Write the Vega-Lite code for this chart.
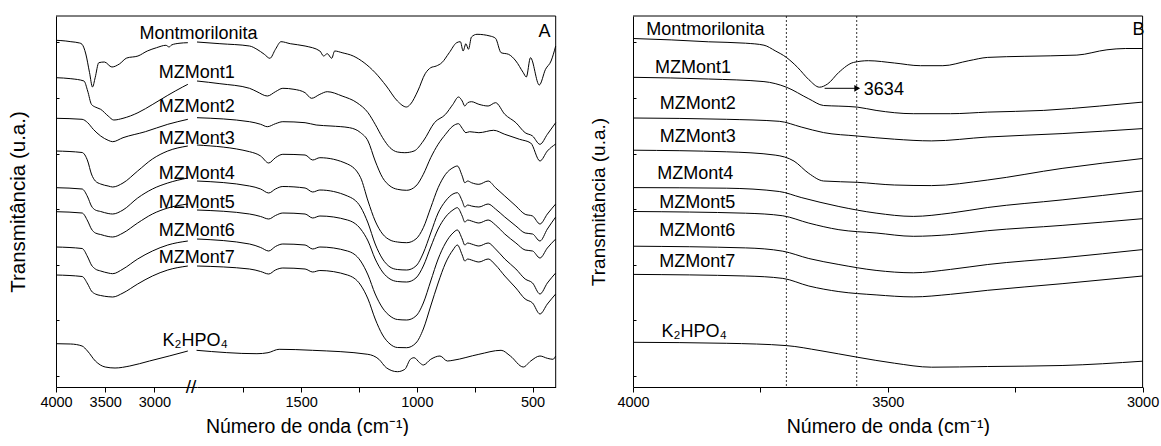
{
"$schema":"https://vega.github.io/schema/vega-lite/v6.json",
"padding":{"left":8,"top":15,"right":5,"bottom":0},
"config":{"font":"Liberation Sans","view":{"stroke":null},"axis":{"labelFont":"Liberation Sans","titleFont":"Liberation Sans","titleFontWeight":"normal","titleColor":"black","labelColor":"black","domainColor":"black","tickColor":"black","grid":false}},
"bounds":"flush",
"spacing":0,
"datasets":{
"A":[
{"s":"Mont","wn":4000,"T":346.7},{"s":"Mont","wn":3900,"T":346},{"s":"Mont","wn":3849,"T":345.3},{"s":"Mont","wn":3760,"T":344},{"s":"Mont","wn":3735,"T":342.7},{"s":"Mont","wn":3697,"T":333},{"s":"Mont","wn":3659,"T":314.3},{"s":"Mont","wn":3629,"T":300},{"s":"Mont","wn":3602,"T":309.3},{"s":"Mont","wn":3565,"T":324.3},{"s":"Mont","wn":3508,"T":325},{"s":"Mont","wn":3432,"T":320},{"s":"Mont","wn":3356,"T":323},{"s":"Mont","wn":3281,"T":329},{"s":"Mont","wn":3167,"T":331},{"s":"Mont","wn":3072,"T":336},{"s":"Mont","wn":2978,"T":339.3},{"s":"Mont","wn":2883,"T":341.7},{"s":"Mont","wn":2850,"T":340},{"s":"Mont","wn":2826,"T":342},{"s":"Mont","wn":2750,"T":343.7},{"s":"Mont","wn":2660,"T":344.3},
{"s":"Mont","wn":1950,"T":345},{"s":"Mont","wn":1851,"T":343.3},{"s":"Mont","wn":1723,"T":341},{"s":"Mont","wn":1691,"T":337.7},{"s":"Mont","wn":1659,"T":332.7},{"s":"Mont","wn":1635,"T":328.7},{"s":"Mont","wn":1611,"T":337.7},{"s":"Mont","wn":1587,"T":345.3},{"s":"Mont","wn":1547,"T":343.3},{"s":"Mont","wn":1483,"T":341},{"s":"Mont","wn":1419,"T":336},{"s":"Mont","wn":1403,"T":331},{"s":"Mont","wn":1387,"T":333.3},{"s":"Mont","wn":1368,"T":328.7},{"s":"Mont","wn":1355,"T":336},{"s":"Mont","wn":1323,"T":334.3},{"s":"Mont","wn":1275,"T":331},{"s":"Mont","wn":1228,"T":324.3},{"s":"Mont","wn":1180,"T":314.3},{"s":"Mont","wn":1132,"T":301},{"s":"Mont","wn":1084,"T":286},{"s":"Mont","wn":1045,"T":280},{"s":"Mont","wn":1028,"T":282.7},{"s":"Mont","wn":996,"T":296},{"s":"Mont","wn":964,"T":313.3},{"s":"Mont","wn":940,"T":319.3},{"s":"Mont","wn":916,"T":321},{"s":"Mont","wn":892,"T":324.3},{"s":"Mont","wn":860,"T":334.3},{"s":"Mont","wn":828,"T":344.3},{"s":"Mont","wn":812,"T":345.3},{"s":"Mont","wn":800,"T":336},{"s":"Mont","wn":788,"T":343.3},{"s":"Mont","wn":777,"T":337.7},{"s":"Mont","wn":764,"T":350},{"s":"Mont","wn":740,"T":352.7},{"s":"Mont","wn":684,"T":351},{"s":"Mont","wn":660,"T":348.7},{"s":"Mont","wn":636,"T":334.3},{"s":"Mont","wn":604,"T":332.7},{"s":"Mont","wn":572,"T":326},{"s":"Mont","wn":540,"T":314.3},{"s":"Mont","wn":527,"T":310},{"s":"Mont","wn":509,"T":329.3},{"s":"Mont","wn":471,"T":302},{"s":"Mont","wn":444,"T":317.7},{"s":"Mont","wn":420,"T":326},{"s":"Mont","wn":400,"T":341},
{"s":"MZ1","wn":4000,"T":309.3},{"s":"MZ1","wn":3849,"T":308.3},{"s":"MZ1","wn":3716,"T":306},{"s":"MZ1","wn":3678,"T":296},{"s":"MZ1","wn":3640,"T":282.7},{"s":"MZ1","wn":3602,"T":280},{"s":"MZ1","wn":3546,"T":277.7},{"s":"MZ1","wn":3470,"T":271},{"s":"MZ1","wn":3413,"T":267},{"s":"MZ1","wn":3319,"T":268.7},{"s":"MZ1","wn":3167,"T":274.3},{"s":"MZ1","wn":3016,"T":282.7},{"s":"MZ1","wn":2864,"T":291.7},{"s":"MZ1","wn":2713,"T":300},{"s":"MZ1","wn":2660,"T":302.7},
{"s":"MZ1","wn":1950,"T":306},{"s":"MZ1","wn":1851,"T":303.3},{"s":"MZ1","wn":1723,"T":298.7},{"s":"MZ1","wn":1691,"T":295.3},{"s":"MZ1","wn":1646,"T":291},{"s":"MZ1","wn":1611,"T":295.3},{"s":"MZ1","wn":1579,"T":298.7},{"s":"MZ1","wn":1531,"T":297.7},{"s":"MZ1","wn":1483,"T":294.3},{"s":"MZ1","wn":1455,"T":288.7},{"s":"MZ1","wn":1419,"T":292.7},{"s":"MZ1","wn":1387,"T":295.3},{"s":"MZ1","wn":1323,"T":291},{"s":"MZ1","wn":1259,"T":284.3},{"s":"MZ1","wn":1211,"T":274.3},{"s":"MZ1","wn":1180,"T":262.7},{"s":"MZ1","wn":1148,"T":249.3},{"s":"MZ1","wn":1116,"T":239.3},{"s":"MZ1","wn":1084,"T":235},{"s":"MZ1","wn":1052,"T":234.3},{"s":"MZ1","wn":1012,"T":236},{"s":"MZ1","wn":972,"T":246},{"s":"MZ1","wn":924,"T":264.3},{"s":"MZ1","wn":876,"T":272.7},{"s":"MZ1","wn":844,"T":282.7},{"s":"MZ1","wn":820,"T":290},{"s":"MZ1","wn":804,"T":286},{"s":"MZ1","wn":793,"T":281},{"s":"MZ1","wn":780,"T":284.3},{"s":"MZ1","wn":764,"T":285.3},{"s":"MZ1","wn":732,"T":282.7},{"s":"MZ1","wn":692,"T":281},{"s":"MZ1","wn":660,"T":284.3},{"s":"MZ1","wn":620,"T":272.7},{"s":"MZ1","wn":572,"T":264.3},{"s":"MZ1","wn":532,"T":254.3},{"s":"MZ1","wn":500,"T":251},{"s":"MZ1","wn":468,"T":242.7},{"s":"MZ1","wn":436,"T":252.7},{"s":"MZ1","wn":400,"T":264.3},
{"s":"MZ2","wn":4000,"T":268.7},{"s":"MZ2","wn":3735,"T":267.7},{"s":"MZ2","wn":3678,"T":264.3},{"s":"MZ2","wn":3621,"T":257.7},{"s":"MZ2","wn":3546,"T":251},{"s":"MZ2","wn":3470,"T":246.7},{"s":"MZ2","wn":3424,"T":245.3},{"s":"MZ2","wn":3319,"T":249.3},{"s":"MZ2","wn":3092,"T":255.3},{"s":"MZ2","wn":2864,"T":262.7},{"s":"MZ2","wn":2660,"T":267.7},
{"s":"MZ2","wn":1950,"T":269.3},{"s":"MZ2","wn":1723,"T":265.3},{"s":"MZ2","wn":1675,"T":262.7},{"s":"MZ2","wn":1646,"T":260.3},{"s":"MZ2","wn":1611,"T":263.3},{"s":"MZ2","wn":1579,"T":265.3},{"s":"MZ2","wn":1483,"T":264.3},{"s":"MZ2","wn":1435,"T":262},{"s":"MZ2","wn":1371,"T":261},{"s":"MZ2","wn":1291,"T":259.3},{"s":"MZ2","wn":1243,"T":254.3},{"s":"MZ2","wn":1211,"T":246},{"s":"MZ2","wn":1180,"T":226},{"s":"MZ2","wn":1148,"T":209.3},{"s":"MZ2","wn":1116,"T":201},{"s":"MZ2","wn":1084,"T":197.7},{"s":"MZ2","wn":1044,"T":196.7},{"s":"MZ2","wn":1004,"T":201},{"s":"MZ2","wn":972,"T":212.7},{"s":"MZ2","wn":940,"T":229.3},{"s":"MZ2","wn":908,"T":242.7},{"s":"MZ2","wn":876,"T":252.7},{"s":"MZ2","wn":844,"T":261},{"s":"MZ2","wn":820,"T":263.3},{"s":"MZ2","wn":804,"T":258.7},{"s":"MZ2","wn":788,"T":254.3},{"s":"MZ2","wn":772,"T":255.3},{"s":"MZ2","wn":732,"T":254.3},{"s":"MZ2","wn":668,"T":256.7},{"s":"MZ2","wn":620,"T":252.7},{"s":"MZ2","wn":556,"T":247.7},{"s":"MZ2","wn":508,"T":244},{"s":"MZ2","wn":468,"T":226},{"s":"MZ2","wn":436,"T":236},{"s":"MZ2","wn":400,"T":243},
{"s":"MZ3","wn":4000,"T":236},{"s":"MZ3","wn":3735,"T":234.5},{"s":"MZ3","wn":3678,"T":226},{"s":"MZ3","wn":3640,"T":213},{"s":"MZ3","wn":3600,"T":206},{"s":"MZ3","wn":3546,"T":203},{"s":"MZ3","wn":3470,"T":201},{"s":"MZ3","wn":3424,"T":200},{"s":"MZ3","wn":3319,"T":204},{"s":"MZ3","wn":3170,"T":216},{"s":"MZ3","wn":3020,"T":228},{"s":"MZ3","wn":2864,"T":236},{"s":"MZ3","wn":2660,"T":241},
{"s":"MZ3","wn":1950,"T":242},{"s":"MZ3","wn":1723,"T":235.3},{"s":"MZ3","wn":1675,"T":231},{"s":"MZ3","wn":1640,"T":224},{"s":"MZ3","wn":1611,"T":229.3},{"s":"MZ3","wn":1579,"T":232.7},{"s":"MZ3","wn":1483,"T":232},{"s":"MZ3","wn":1450,"T":227},{"s":"MZ3","wn":1419,"T":229.3},{"s":"MZ3","wn":1300,"T":223},{"s":"MZ3","wn":1243,"T":209.3},{"s":"MZ3","wn":1211,"T":186},{"s":"MZ3","wn":1180,"T":166},{"s":"MZ3","wn":1148,"T":153},{"s":"MZ3","wn":1116,"T":147},{"s":"MZ3","wn":1084,"T":145},{"s":"MZ3","wn":1044,"T":144.3},{"s":"MZ3","wn":1004,"T":148},{"s":"MZ3","wn":972,"T":159.3},{"s":"MZ3","wn":940,"T":179.3},{"s":"MZ3","wn":908,"T":199.3},{"s":"MZ3","wn":876,"T":212.7},{"s":"MZ3","wn":844,"T":219.3},{"s":"MZ3","wn":825,"T":221},{"s":"MZ3","wn":804,"T":211},{"s":"MZ3","wn":793,"T":204.3},{"s":"MZ3","wn":780,"T":206},{"s":"MZ3","wn":764,"T":204.3},{"s":"MZ3","wn":732,"T":202.7},{"s":"MZ3","wn":692,"T":206},{"s":"MZ3","wn":660,"T":199.3},{"s":"MZ3","wn":620,"T":191},{"s":"MZ3","wn":572,"T":181},{"s":"MZ3","wn":532,"T":172.7},{"s":"MZ3","wn":500,"T":171},{"s":"MZ3","wn":468,"T":163},{"s":"MZ3","wn":436,"T":173},{"s":"MZ3","wn":400,"T":183},
{"s":"MZ4","wn":4000,"T":199.3},{"s":"MZ4","wn":3735,"T":198},{"s":"MZ4","wn":3678,"T":190},{"s":"MZ4","wn":3640,"T":181},{"s":"MZ4","wn":3600,"T":177},{"s":"MZ4","wn":3546,"T":175.5},{"s":"MZ4","wn":3470,"T":173.5},{"s":"MZ4","wn":3424,"T":173},{"s":"MZ4","wn":3319,"T":177},{"s":"MZ4","wn":3170,"T":189},{"s":"MZ4","wn":3020,"T":198},{"s":"MZ4","wn":2864,"T":204},{"s":"MZ4","wn":2660,"T":209},
{"s":"MZ4","wn":1950,"T":206},{"s":"MZ4","wn":1723,"T":201},{"s":"MZ4","wn":1675,"T":198},{"s":"MZ4","wn":1640,"T":194},{"s":"MZ4","wn":1611,"T":198},{"s":"MZ4","wn":1579,"T":200.5},{"s":"MZ4","wn":1483,"T":199},{"s":"MZ4","wn":1450,"T":195},{"s":"MZ4","wn":1419,"T":197},{"s":"MZ4","wn":1300,"T":191},{"s":"MZ4","wn":1243,"T":180},{"s":"MZ4","wn":1211,"T":164},{"s":"MZ4","wn":1180,"T":143},{"s":"MZ4","wn":1148,"T":128},{"s":"MZ4","wn":1116,"T":120},{"s":"MZ4","wn":1084,"T":117.5},{"s":"MZ4","wn":1044,"T":117},{"s":"MZ4","wn":1004,"T":121},{"s":"MZ4","wn":972,"T":134},{"s":"MZ4","wn":940,"T":154},{"s":"MZ4","wn":908,"T":174},{"s":"MZ4","wn":876,"T":186},{"s":"MZ4","wn":844,"T":193},{"s":"MZ4","wn":825,"T":194.3},{"s":"MZ4","wn":804,"T":186},{"s":"MZ4","wn":793,"T":180},{"s":"MZ4","wn":780,"T":182},{"s":"MZ4","wn":764,"T":181},{"s":"MZ4","wn":732,"T":180},{"s":"MZ4","wn":692,"T":183},{"s":"MZ4","wn":660,"T":178},{"s":"MZ4","wn":620,"T":170},{"s":"MZ4","wn":572,"T":161},{"s":"MZ4","wn":532,"T":154},{"s":"MZ4","wn":500,"T":153},{"s":"MZ4","wn":468,"T":146},{"s":"MZ4","wn":436,"T":158},{"s":"MZ4","wn":400,"T":170},
{"s":"MZ5","wn":4000,"T":175.3},{"s":"MZ5","wn":3735,"T":174},{"s":"MZ5","wn":3678,"T":166},{"s":"MZ5","wn":3640,"T":158},{"s":"MZ5","wn":3600,"T":154},{"s":"MZ5","wn":3546,"T":152.5},{"s":"MZ5","wn":3470,"T":150.5},{"s":"MZ5","wn":3424,"T":150},{"s":"MZ5","wn":3319,"T":154},{"s":"MZ5","wn":3170,"T":164},{"s":"MZ5","wn":3020,"T":173},{"s":"MZ5","wn":2864,"T":179},{"s":"MZ5","wn":2660,"T":183},
{"s":"MZ5","wn":1950,"T":177},{"s":"MZ5","wn":1723,"T":173},{"s":"MZ5","wn":1675,"T":170.5},{"s":"MZ5","wn":1640,"T":168},{"s":"MZ5","wn":1611,"T":171.5},{"s":"MZ5","wn":1579,"T":174},{"s":"MZ5","wn":1483,"T":173},{"s":"MZ5","wn":1450,"T":169},{"s":"MZ5","wn":1419,"T":171},{"s":"MZ5","wn":1300,"T":167},{"s":"MZ5","wn":1243,"T":158},{"s":"MZ5","wn":1211,"T":146},{"s":"MZ5","wn":1180,"T":128},{"s":"MZ5","wn":1148,"T":115},{"s":"MZ5","wn":1116,"T":108},{"s":"MZ5","wn":1084,"T":105.5},{"s":"MZ5","wn":1044,"T":105},{"s":"MZ5","wn":1004,"T":109},{"s":"MZ5","wn":972,"T":121},{"s":"MZ5","wn":940,"T":140},{"s":"MZ5","wn":908,"T":158},{"s":"MZ5","wn":876,"T":170},{"s":"MZ5","wn":844,"T":177},{"s":"MZ5","wn":825,"T":179.3},{"s":"MZ5","wn":804,"T":171},{"s":"MZ5","wn":793,"T":165},{"s":"MZ5","wn":780,"T":167},{"s":"MZ5","wn":764,"T":166},{"s":"MZ5","wn":732,"T":164},{"s":"MZ5","wn":692,"T":167},{"s":"MZ5","wn":660,"T":162},{"s":"MZ5","wn":620,"T":153},{"s":"MZ5","wn":572,"T":144},{"s":"MZ5","wn":532,"T":137},{"s":"MZ5","wn":500,"T":136},{"s":"MZ5","wn":468,"T":129},{"s":"MZ5","wn":436,"T":139},{"s":"MZ5","wn":400,"T":148},
{"s":"MZ6","wn":4000,"T":140},{"s":"MZ6","wn":3735,"T":138.5},{"s":"MZ6","wn":3678,"T":130},{"s":"MZ6","wn":3640,"T":122},{"s":"MZ6","wn":3600,"T":118},{"s":"MZ6","wn":3546,"T":116},{"s":"MZ6","wn":3470,"T":114},{"s":"MZ6","wn":3424,"T":113.3},{"s":"MZ6","wn":3319,"T":118},{"s":"MZ6","wn":3170,"T":128},{"s":"MZ6","wn":3020,"T":136},{"s":"MZ6","wn":2864,"T":142},{"s":"MZ6","wn":2660,"T":146},
{"s":"MZ6","wn":1950,"T":148},{"s":"MZ6","wn":1723,"T":143},{"s":"MZ6","wn":1675,"T":139.5},{"s":"MZ6","wn":1640,"T":136},{"s":"MZ6","wn":1611,"T":140.5},{"s":"MZ6","wn":1579,"T":143},{"s":"MZ6","wn":1483,"T":142},{"s":"MZ6","wn":1450,"T":138},{"s":"MZ6","wn":1419,"T":140},{"s":"MZ6","wn":1300,"T":136},{"s":"MZ6","wn":1243,"T":126},{"s":"MZ6","wn":1211,"T":112},{"s":"MZ6","wn":1180,"T":93},{"s":"MZ6","wn":1148,"T":79},{"s":"MZ6","wn":1116,"T":71},{"s":"MZ6","wn":1084,"T":67.5},{"s":"MZ6","wn":1044,"T":67},{"s":"MZ6","wn":1004,"T":71},{"s":"MZ6","wn":972,"T":84},{"s":"MZ6","wn":940,"T":106},{"s":"MZ6","wn":908,"T":128},{"s":"MZ6","wn":876,"T":144},{"s":"MZ6","wn":844,"T":154},{"s":"MZ6","wn":825,"T":157},{"s":"MZ6","wn":804,"T":148},{"s":"MZ6","wn":793,"T":142},{"s":"MZ6","wn":780,"T":144},{"s":"MZ6","wn":764,"T":143},{"s":"MZ6","wn":732,"T":141},{"s":"MZ6","wn":692,"T":144},{"s":"MZ6","wn":660,"T":138},{"s":"MZ6","wn":620,"T":128},{"s":"MZ6","wn":572,"T":118},{"s":"MZ6","wn":532,"T":108},{"s":"MZ6","wn":500,"T":104},{"s":"MZ6","wn":468,"T":93},{"s":"MZ6","wn":436,"T":104},{"s":"MZ6","wn":400,"T":114},
{"s":"MZ7","wn":4000,"T":112},{"s":"MZ7","wn":3735,"T":110.5},{"s":"MZ7","wn":3678,"T":103},{"s":"MZ7","wn":3640,"T":96},{"s":"MZ7","wn":3600,"T":93},{"s":"MZ7","wn":3546,"T":91.5},{"s":"MZ7","wn":3470,"T":90.3},{"s":"MZ7","wn":3424,"T":90},{"s":"MZ7","wn":3319,"T":94},{"s":"MZ7","wn":3170,"T":103},{"s":"MZ7","wn":3020,"T":111},{"s":"MZ7","wn":2864,"T":117},{"s":"MZ7","wn":2660,"T":121},
{"s":"MZ7","wn":1950,"T":121},{"s":"MZ7","wn":1723,"T":118},{"s":"MZ7","wn":1675,"T":115.5},{"s":"MZ7","wn":1640,"T":113},{"s":"MZ7","wn":1611,"T":117},{"s":"MZ7","wn":1579,"T":119},{"s":"MZ7","wn":1483,"T":118},{"s":"MZ7","wn":1450,"T":115},{"s":"MZ7","wn":1419,"T":116.5},{"s":"MZ7","wn":1300,"T":112},{"s":"MZ7","wn":1243,"T":102},{"s":"MZ7","wn":1211,"T":88},{"s":"MZ7","wn":1180,"T":68},{"s":"MZ7","wn":1148,"T":52},{"s":"MZ7","wn":1116,"T":43},{"s":"MZ7","wn":1084,"T":39.5},{"s":"MZ7","wn":1044,"T":39.3},{"s":"MZ7","wn":1004,"T":44},{"s":"MZ7","wn":972,"T":58},{"s":"MZ7","wn":940,"T":81},{"s":"MZ7","wn":908,"T":104},{"s":"MZ7","wn":876,"T":124},{"s":"MZ7","wn":844,"T":137},{"s":"MZ7","wn":825,"T":142},{"s":"MZ7","wn":804,"T":132},{"s":"MZ7","wn":793,"T":126},{"s":"MZ7","wn":780,"T":128},{"s":"MZ7","wn":764,"T":127},{"s":"MZ7","wn":732,"T":125},{"s":"MZ7","wn":692,"T":128},{"s":"MZ7","wn":660,"T":122},{"s":"MZ7","wn":620,"T":111},{"s":"MZ7","wn":572,"T":99},{"s":"MZ7","wn":532,"T":88},{"s":"MZ7","wn":500,"T":84},{"s":"MZ7","wn":468,"T":73},{"s":"MZ7","wn":436,"T":83},{"s":"MZ7","wn":400,"T":93},
{"s":"K2","wn":4000,"T":43.3},{"s":"K2","wn":3850,"T":43},{"s":"K2","wn":3735,"T":41},{"s":"K2","wn":3680,"T":36},{"s":"K2","wn":3600,"T":26},{"s":"K2","wn":3500,"T":20},{"s":"K2","wn":3400,"T":19},{"s":"K2","wn":3250,"T":21},{"s":"K2","wn":3050,"T":26},{"s":"K2","wn":2850,"T":31},{"s":"K2","wn":2660,"T":36},
{"s":"K2","wn":1952,"T":36.7},{"s":"K2","wn":1691,"T":33.3},{"s":"K2","wn":1643,"T":34.3},{"s":"K2","wn":1595,"T":37.7},{"s":"K2","wn":1451,"T":36.7},{"s":"K2","wn":1212,"T":32.7},{"s":"K2","wn":1164,"T":27.7},{"s":"K2","wn":1132,"T":19.3},{"s":"K2","wn":1084,"T":15.3},{"s":"K2","wn":1052,"T":17.7},{"s":"K2","wn":1028,"T":27.7},{"s":"K2","wn":1012,"T":29.3},{"s":"K2","wn":988,"T":24.3},{"s":"K2","wn":972,"T":22},{"s":"K2","wn":940,"T":27.7},{"s":"K2","wn":900,"T":31},{"s":"K2","wn":868,"T":26},{"s":"K2","wn":844,"T":26.7},{"s":"K2","wn":732,"T":32.7},{"s":"K2","wn":636,"T":36.7},{"s":"K2","wn":596,"T":31},{"s":"K2","wn":540,"T":20},{"s":"K2","wn":508,"T":26},{"s":"K2","wn":468,"T":31},{"s":"K2","wn":436,"T":28.7},{"s":"K2","wn":412,"T":27.7},{"s":"K2","wn":400,"T":31}
],
"B":[
{"s":"Mont","wn":4000,"T":348.5},{"s":"Mont","wn":3925,"T":347.1},{"s":"Mont","wn":3852,"T":345.2},{"s":"Mont","wn":3779,"T":343.8},{"s":"Mont","wn":3743,"T":341.8},{"s":"Mont","wn":3721,"T":336.2},{"s":"Mont","wn":3699,"T":329.6},{"s":"Mont","wn":3677,"T":319.6},{"s":"Mont","wn":3655,"T":307.4},{"s":"Mont","wn":3634,"T":299.8},{"s":"Mont","wn":3618,"T":303.1},{"s":"Mont","wn":3596,"T":314.7},{"s":"Mont","wn":3567,"T":324.6},{"s":"Mont","wn":3538,"T":326.3},{"s":"Mont","wn":3487,"T":324},{"s":"Mont","wn":3436,"T":321.3},{"s":"Mont","wn":3392,"T":321.3},{"s":"Mont","wn":3341,"T":326.3},{"s":"Mont","wn":3304,"T":329.6},{"s":"Mont","wn":3231,"T":330.7},{"s":"Mont","wn":3129,"T":331.9},{"s":"Mont","wn":3070,"T":337.2},{"s":"Mont","wn":3034,"T":338.5},{"s":"Mont","wn":3000,"T":338.5},
{"s":"MZ1","wn":4000,"T":309.7},{"s":"MZ1","wn":3852,"T":308},{"s":"MZ1","wn":3743,"T":305.4},{"s":"MZ1","wn":3699,"T":299.8},{"s":"MZ1","wn":3655,"T":288.2},{"s":"MZ1","wn":3626,"T":281.5},{"s":"MZ1","wn":3596,"T":280.9},{"s":"MZ1","wn":3560,"T":279.9},{"s":"MZ1","wn":3523,"T":276.6},{"s":"MZ1","wn":3450,"T":273.3},{"s":"MZ1","wn":3377,"T":273.3},{"s":"MZ1","wn":3304,"T":274.9},{"s":"MZ1","wn":3194,"T":276.6},{"s":"MZ1","wn":3085,"T":280.9},{"s":"MZ1","wn":3000,"T":284.9},
{"s":"MZ2","wn":4000,"T":269},{"s":"MZ2","wn":3816,"T":267.7},{"s":"MZ2","wn":3713,"T":265.7},{"s":"MZ2","wn":3670,"T":260},{"s":"MZ2","wn":3626,"T":254.4},{"s":"MZ2","wn":3560,"T":251},{"s":"MZ2","wn":3487,"T":247.8},{"s":"MZ2","wn":3414,"T":246.1},{"s":"MZ2","wn":3304,"T":250},{"s":"MZ2","wn":3158,"T":253.4},{"s":"MZ2","wn":3000,"T":258.4},
{"s":"MZ3","wn":4000,"T":236.8},{"s":"MZ3","wn":3816,"T":235.2},{"s":"MZ3","wn":3721,"T":231.9},{"s":"MZ3","wn":3684,"T":225.9},{"s":"MZ3","wn":3655,"T":213.6},{"s":"MZ3","wn":3626,"T":206},{"s":"MZ3","wn":3560,"T":204.7},{"s":"MZ3","wn":3487,"T":202},{"s":"MZ3","wn":3414,"T":201.4},{"s":"MZ3","wn":3304,"T":207},{"s":"MZ3","wn":3158,"T":218.6},{"s":"MZ3","wn":3000,"T":228.5},
{"s":"MZ4","wn":4000,"T":199.4},{"s":"MZ4","wn":3816,"T":198.8},{"s":"MZ4","wn":3713,"T":195.5},{"s":"MZ4","wn":3670,"T":189.5},{"s":"MZ4","wn":3596,"T":180.5},{"s":"MZ4","wn":3523,"T":173.9},{"s":"MZ4","wn":3450,"T":170.6},{"s":"MZ4","wn":3377,"T":173.9},{"s":"MZ4","wn":3304,"T":179.5},{"s":"MZ4","wn":3158,"T":187.1},{"s":"MZ4","wn":3000,"T":196.1},
{"s":"MZ5","wn":4000,"T":175.5},{"s":"MZ5","wn":3779,"T":173.8},{"s":"MZ5","wn":3706,"T":171.2},{"s":"MZ5","wn":3655,"T":163.9},{"s":"MZ5","wn":3596,"T":157.3},{"s":"MZ5","wn":3523,"T":154},{"s":"MZ5","wn":3450,"T":150.7},{"s":"MZ5","wn":3377,"T":152.4},{"s":"MZ5","wn":3304,"T":156.3},{"s":"MZ5","wn":3158,"T":161.6},{"s":"MZ5","wn":3000,"T":168.3},
{"s":"MZ6","wn":4000,"T":140.8},{"s":"MZ6","wn":3779,"T":139.1},{"s":"MZ6","wn":3706,"T":135.8},{"s":"MZ6","wn":3655,"T":128.5},{"s":"MZ6","wn":3596,"T":122.5},{"s":"MZ6","wn":3523,"T":116.6},{"s":"MZ6","wn":3450,"T":114.2},{"s":"MZ6","wn":3377,"T":117.6},{"s":"MZ6","wn":3304,"T":122.5},{"s":"MZ6","wn":3158,"T":129.2},{"s":"MZ6","wn":3000,"T":137.4},
{"s":"MZ7","wn":4000,"T":112.6},{"s":"MZ7","wn":3779,"T":111},{"s":"MZ7","wn":3706,"T":108.6},{"s":"MZ7","wn":3655,"T":101},{"s":"MZ7","wn":3596,"T":95.4},{"s":"MZ7","wn":3523,"T":92.1},{"s":"MZ7","wn":3450,"T":90.1},{"s":"MZ7","wn":3377,"T":92.7},{"s":"MZ7","wn":3304,"T":96.7},{"s":"MZ7","wn":3158,"T":103.3},{"s":"MZ7","wn":3000,"T":111},
{"s":"K2","wn":4000,"T":44.7},{"s":"K2","wn":3816,"T":43.7},{"s":"K2","wn":3699,"T":41.4},{"s":"K2","wn":3633,"T":36.4},{"s":"K2","wn":3560,"T":29.8},{"s":"K2","wn":3487,"T":23.8},{"s":"K2","wn":3414,"T":19.8},{"s":"K2","wn":3304,"T":20.5},{"s":"K2","wn":3158,"T":21.5},{"s":"K2","wn":3000,"T":25.8}
],
"labA":[
{"label":"Montmorilonita","wn":2552,"T":352.7},{"label":"MZMont1","wn":2570,"T":314.3},{"label":"MZMont2","wn":2570,"T":280},{"label":"MZMont3","wn":2570,"T":248.3},{"label":"MZMont4","wn":2570,"T":212.7},{"label":"MZMont5","wn":2570,"T":184.3},{"label":"MZMont6","wn":2570,"T":156},{"label":"MZMont7","wn":2570,"T":129.3},{"label":"K₂HPO₄","wn":2586,"T":46}
],
"labB":[
{"label":"Montmorilonita","wn":3858,"T":357.1},{"label":"MZMont1","wn":3882,"T":318.7},{"label":"MZMont2","wn":3873,"T":283.2},{"label":"MZMont3","wn":3873,"T":250},{"label":"MZMont4","wn":3878,"T":212.6},{"label":"MZMont5","wn":3874,"T":184.5},{"label":"MZMont6","wn":3874,"T":156.3},{"label":"MZMont7","wn":3874,"T":125},{"label":"K₂HPO₄","wn":3880,"T":55.3}
]
},
"hconcat":[
{
"width":141,"height":371,
"layer":[
{"data":{"name":"A"},"transform":[{"filter":"datum.wn >= 2600"}],
"mark":{"type":"line","color":"black","strokeWidth":1,"interpolate":"monotone"},
"encoding":{
"x":{"field":"wn","type":"quantitative","scale":{"domain":[4000,2567],"nice":false,"zero":false},
"axis":{"title":null,"values":[4000,3750,3500,3250,3000,2750],"labelExpr":"datum.value % 500 === 0 ? datum.label : ''","format":"d","tickSize":5,"labelPadding":3,"labelFontSize":14.5,"labelFlush":false}},
"y":{"field":"T","type":"quantitative","scale":{"domain":[0,371],"nice":false,"zero":false},
"axis":{"title":"Transmitância (u.a.)","labels":false,"values":[11,38.8,66.6,94.4,122.2,150,177.8,205.6,233.4,261.2,289,316.8,344.6],"tickSize":-3,"titleFontSize":20.5,"titlePadding":27}},
"detail":{"field":"s"}}},
{"data":{"values":[{}]},"mark":{"type":"rule","color":"black","strokeWidth":1},"encoding":{"y":{"datum":371}}},
{"data":{"name":"labA"},"mark":{"type":"text","fontSize":18,"color":"black","align":"center","baseline":"middle"},
"encoding":{"x":{"field":"wn","type":"quantitative"},"y":{"field":"T","type":"quantitative"},"text":{"field":"label"}}},
{"data":{"values":[{"wn":2567,"T":0,"t":"//"}]},"mark":{"type":"text","fontSize":19,"color":"black","align":"center","baseline":"middle","dx":-6},
"encoding":{"x":{"field":"wn","type":"quantitative"},"y":{"field":"T","type":"quantitative"},"text":{"field":"t"}}}
]
},
{
"width":358.7,"height":371,
"layer":[
{"data":{"name":"A"},"transform":[{"filter":"datum.wn <= 1960"}],
"mark":{"type":"line","color":"black","strokeWidth":1,"interpolate":"monotone"},
"encoding":{
"x":{"field":"wn","type":"quantitative","scale":{"domain":[1950,400],"nice":false,"zero":false},
"axis":{"title":"Número de onda (cm⁻¹)","titleX":110,"titleFontSize":19.5,"titlePadding":9,"values":[1750,1500,1250,1000,750,500],"labelExpr":"datum.value % 500 === 0 ? datum.label : ''","format":"d","tickSize":5,"labelPadding":3,"labelFontSize":14.5,"labelFlush":false}},
"y":{"field":"T","type":"quantitative","scale":{"domain":[0,371],"nice":false,"zero":false},"axis":null},
"detail":{"field":"s"}}},
{"data":{"values":[{}]},"mark":{"type":"rule","color":"black","strokeWidth":1},"encoding":{"y":{"datum":371}}},
{"data":{"values":[{}]},"mark":{"type":"rule","color":"black","strokeWidth":1},"encoding":{"x":{"datum":400}}},
{"data":{"values":[{"wn":448,"T":355,"t":"A"}]},"mark":{"type":"text","fontSize":18,"color":"black","align":"center","baseline":"middle"},
"encoding":{"x":{"field":"wn","type":"quantitative"},"y":{"field":"T","type":"quantitative"},"text":{"field":"t"}}}
]
},
{
"width":77,"height":371,
"data":{"values":[{}]},
"mark":{"type":"text","text":""}
},
{
"width":509.6,"height":371,
"layer":[
{"data":{"name":"B"},
"mark":{"type":"line","color":"black","strokeWidth":1,"interpolate":"monotone"},
"encoding":{
"x":{"field":"wn","type":"quantitative","scale":{"domain":[4000,3000],"nice":false,"zero":false},
"axis":{"title":"Número de onda (cm⁻¹)","titleFontSize":19.5,"titlePadding":9,"values":[4000,3750,3500,3250,3000],"labelExpr":"datum.value % 500 === 0 ? datum.label : ''","format":"d","tickSize":5,"labelPadding":3,"labelFontSize":14.5,"labelFlush":false}},
"y":{"field":"T","type":"quantitative","scale":{"domain":[0,371],"nice":false,"zero":false},
"axis":{"title":"Transmitância (u.a.)","labels":false,"values":[11,38.8,66.6,94.4,122.2,150,177.8,205.6,233.4,261.2,289,316.8,344.6],"tickSize":-3,"titleFontSize":19,"titlePadding":24}},
"detail":{"field":"s"}}},
{"data":{"values":[{"x":3699},{"x":3561}]},"mark":{"type":"rule","color":"black","strokeWidth":0.8,"strokeDash":[2,2]},"encoding":{"x":{"field":"x","type":"quantitative"}}},
{"data":{"values":[{}]},"mark":{"type":"rule","color":"black","strokeWidth":1},"encoding":{"y":{"datum":371}}},
{"data":{"values":[{}]},"mark":{"type":"rule","color":"black","strokeWidth":1},"encoding":{"x":{"datum":3000}}},
{"data":{"values":[{"a":3624,"b":3557,"T":298.7}]},"mark":{"type":"rule","color":"black","strokeWidth":1},"encoding":{"x":{"field":"a","type":"quantitative"},"x2":{"field":"b"},"y":{"field":"T","type":"quantitative"}}},
{"data":{"values":[{"a":3560,"T":298.7}]},"mark":{"type":"point","shape":"triangle-right","filled":true,"color":"black","size":45,"opacity":1},"encoding":{"x":{"field":"a","type":"quantitative"},"y":{"field":"T","type":"quantitative"}}},
{"data":{"name":"labB"},"mark":{"type":"text","fontSize":18,"color":"black","align":"center","baseline":"middle"},
"encoding":{"x":{"field":"wn","type":"quantitative"},"y":{"field":"T","type":"quantitative"},"text":{"field":"label"}}},
{"data":{"values":[{"wn":3547,"T":296.7,"t":"3634"},{"wn":3020,"T":357.4,"t":"B"}]},"mark":{"type":"text","fontSize":18,"color":"black","align":"left","baseline":"middle"},
"encoding":{"x":{"field":"wn","type":"quantitative"},"y":{"field":"T","type":"quantitative"},"text":{"field":"t"}}}
]
}
]
}
